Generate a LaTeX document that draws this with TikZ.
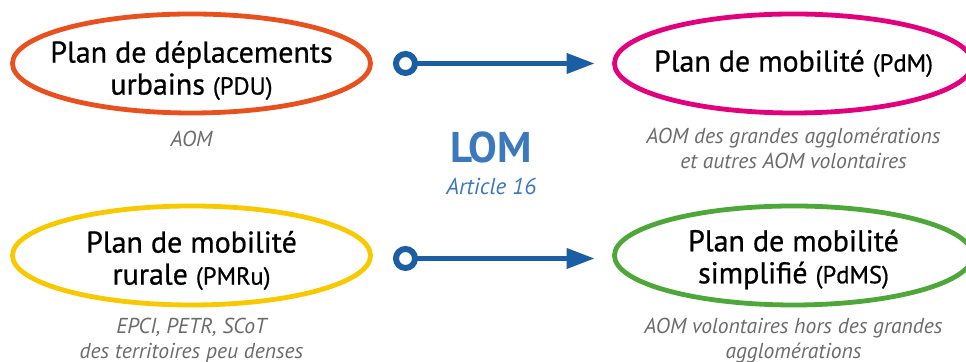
\documentclass[tikz,border=0pt]{standalone}
\usepackage{fontspec}
\setmainfont{PT Sans}
\newfontfamily\titrefont{PT Sans}[FakeBold=0.7]
\usetikzlibrary{positioning,shapes.geometric,arrows.meta}

\definecolor{orangePDU}{HTML}{E8501E}
\definecolor{rosePdM}{HTML}{E3007D}
\definecolor{jaunePMRu}{HTML}{F9C900}
\definecolor{vertPdMS}{HTML}{4EA839}
\definecolor{bleuFleche}{HTML}{1B5EA3}
\definecolor{bleuLOM}{HTML}{3B79BC}
\definecolor{grisTxt}{HTML}{6B6B6B}

\newcommand{\sigle}[1]{{\fontsize{12.3}{16}\selectfont(#1)}}

\tikzset{plan/.style={draw, ellipse, line width=2.4pt, minimum width=179pt, minimum height=49.5pt, inner sep=0pt, outer sep=0pt}}
\tikzset{titre/.style={font=\titrefont\fontsize{15}{16}\selectfont, align=center, inner sep=0pt}}
\tikzset{public/.style={font=\fontsize{10.8}{12.5}\selectfont\itshape, text=grisTxt, align=center, inner sep=0pt}}
\tikzset{lien/.style={draw=bleuFleche, line width=2.1pt, {Circle[open,length=12.5pt,width=12.5pt,line width=3pt]}-{Triangle[length=14pt,width=10pt]}, shorten <=11.25pt, shorten >=10pt}}

\begin{document}
\begin{tikzpicture}[x=1pt, y=1pt, node distance=301pt]
    \useasboundingbox (0,0) rectangle (483,181);

    \node[plan, draw=orangePDU] (pdu) at (95.75,149.25) {};
    \node[plan, draw=rosePdM] (pdm) [right of=pdu] {};
    \node[plan, draw=jaunePMRu] (pmru) [below of=pdu, node distance=96pt] {};
    \node[plan, draw=vertPdMS] (pdms) [right of=pmru] {};

    \node[titre] (tpdu) at ([yshift=-3.5pt]pdu.center) {Plan de déplacements\\urbains \sigle{PDU}};
    \node[titre] (tpdm) at (pdm.center) {Plan de mobilité \sigle{PdM}};
    \node[titre] (tpmru) at ([yshift=-2.5pt]pmru.center) {Plan de mobilité\\rurale \sigle{PMRu}};
    \node[titre] (tpdms) at ([yshift=-2pt]pdms.center) {Plan de mobilité\\simplifié \sigle{PdMS}};

    \node[public] (ppdu) [below of=pdu, node distance=37.5pt] {AOM};
    \node[public] (ppdm) [below of=pdm, node distance=42.25pt] {AOM des grandes agglomérations\\et autres AOM volontaires};
    \node[public] (ppmru) [below of=pmru, node distance=42.5pt] {EPCI, PETR, SCoT\\des territoires peu denses};
    \node[public] (ppdms) [below of=pdms, node distance=42.5pt] {AOM volontaires hors des grandes\\agglomérations};

    \node[font=\fontsize{21.5}{24}\selectfont\bfseries, text=bleuLOM, inner sep=0pt] (lom) at (245.7,107.5) {LOM};
    \node[font=\fontsize{11.5}{12}\selectfont\itshape, text=bleuLOM, inner sep=0pt] (art) [below of=lom, node distance=19.5pt] {Article 16};

    \draw[lien] (pdu.east) -- (pdm.west);
    \draw[lien] ([yshift=-1.5pt]pmru.east) -- ([yshift=-1.5pt]pdms.west);
\end{tikzpicture}
\end{document}
